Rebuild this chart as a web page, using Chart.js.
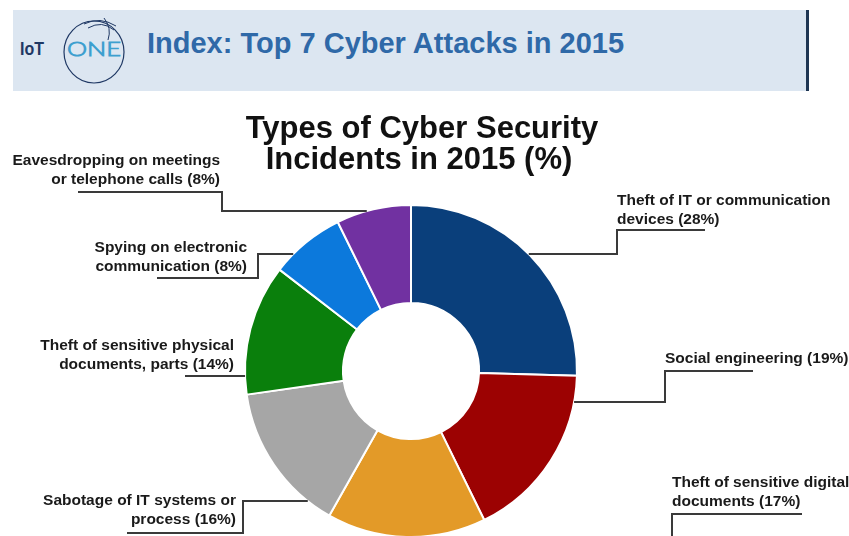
<!DOCTYPE html>
<html>
<head>
<meta charset="utf-8">
<script src="https://cdn.jsdelivr.net/npm/chart.js@4"></script>
<style>
  html, body { margin: 0; padding: 0; background: #fff; overflow: hidden; }
  #page { position: relative; width: 849px; height: 536px; overflow: hidden; }
  #header { position: absolute; left: 0; top: 0; }
  #wrap { position: absolute; left: 0; top: 0; width: 849px; height: 560px; }
</style>
</head>
<body>
<div id="page">
  <svg id="header" width="849" height="100" xmlns="http://www.w3.org/2000/svg">
    <rect x="13" y="10" width="793" height="81" fill="#dce6f1"/>
    <rect x="806" y="10" width="3" height="81" fill="#1f3653"/>
    <!-- logo -->
    <text x="20" y="55" font-family="Liberation Sans, Arial, sans-serif" font-weight="bold" font-size="19" fill="#1f3864" textLength="24" lengthAdjust="spacingAndGlyphs">IoT</text>
    <ellipse cx="94" cy="52" rx="30" ry="31" fill="none" stroke="#1f3864" stroke-width="1.2"/>
    <path d="M84 24 Q100 16 116 26" fill="none" stroke="#1f3864" stroke-width="1"/>
    <path d="M88 28 Q102 20 114 30" fill="none" stroke="#1f3864" stroke-width="1"/>
    <path d="M104 18 Q112 28 108 40" fill="none" stroke="#1f3864" stroke-width="1"/>
    <text x="67" y="56" font-family="Lato, Liberation Sans, sans-serif" font-weight="300" font-size="19" fill="none" stroke="#3d9fcf" stroke-width="0.9" textLength="54" lengthAdjust="spacingAndGlyphs">ONE</text>
    <text x="147" y="53" font-family="Liberation Sans, Arial, sans-serif" font-weight="bold" font-size="29" fill="#2f69a8">Index: Top 7 Cyber Attacks in 2015</text>
  </svg>
  <div id="wrap"><canvas id="donut" width="849" height="560"></canvas></div>
</div>
<script>
// categories, one entry per slice, already split into label lines
const categories = [
  ['Theft of IT or communication', 'devices'],
  ['Social engineering'],
  ['Theft of sensitive digital', 'documents'],
  ['Sabotage of IT systems or', 'process'],
  ['Theft of sensitive physical', 'documents, parts'],
  ['Spying on electronic', 'communication'],
  ['Eavesdropping on meetings', 'or telephone calls']
];
// share of companies reporting each incident type (%)
const shares = [28, 19, 17, 16, 14, 8, 8];
const sliceColors = ['#0a3f7b', '#9c0202', '#e39a28', '#a6a6a6', '#0a7f0c', '#0c79dc', '#7131a1'];
const titleLines = ['Types of Cyber Security', 'Incidents in 2015 (%)'];

// where each callout text sits and how its leader line runs
// anchorY: height where the leader meets the ring (null = runs off the bottom)
const callouts = [
  { align: 'left',  x: 617, y: 205, anchorY: 254, path: [[617, 254], [617, 230], [705, 230]] },
  { align: 'left',  x: 665, y: 363, anchorY: 402, path: [[665, 402], [665, 371], [753, 371]] },
  { align: 'left',  x: 672, y: 487, anchorY: null, path: [[802, 514], [672, 514], [672, 570]] },
  { align: 'right', x: 236, y: 505, anchorY: 501, path: [[243, 501], [243, 533], [127, 533]] },
  { align: 'right', x: 234, y: 350, anchorY: 376, path: [[185, 376]] },
  { align: 'right', x: 247, y: 252, anchorY: 254, path: [[258, 254], [258, 278], [157, 278]] },
  { align: 'right', x: 220, y: 165, anchorY: 211, path: [[222, 211], [222, 192], [78, 192]] }
];

const calloutPlugin = {
  id: 'callouts',
  afterDraw(chart) {
    const ctx = chart.ctx;
    const arcs = chart.getDatasetMeta(0).data;
    const values = chart.data.datasets[0].data;

    ctx.save();
    // chart heading
    ctx.fillStyle = '#111';
    ctx.font = 'bold 31px "Liberation Sans", Arial, sans-serif';
    ctx.textAlign = 'center';
    ctx.textBaseline = 'alphabetic';
    ctx.fillText(titleLines[0], 422, 138);
    ctx.fillText(titleLines[1], 419, 169);

    ctx.font = 'bold 15.5px "Liberation Sans", Arial, sans-serif';
    callouts.forEach((c, i) => {
      const arc = arcs[i];
      const lines = chart.data.labels[i].slice();
      lines[lines.length - 1] += ' (' + values[i] + '%)';

      ctx.fillStyle = '#1a1a1a';
      ctx.textAlign = c.align;
      lines.forEach((t, k) => ctx.fillText(t, c.x, c.y + k * 18.5));

      // leader line: starts on the ring's outer edge on the slice's side
      const pts = [];
      if (c.anchorY !== null) {
        const mid = (arc.startAngle + arc.endAngle) / 2;
        const side = Math.cos(mid) >= 0 ? 1 : -1;
        const dy = c.anchorY - arc.y;
        const dx = Math.sqrt(Math.max(arc.outerRadius * arc.outerRadius - dy * dy, 0));
        pts.push([arc.x + side * dx, c.anchorY]);
      }
      c.path.forEach(p => pts.push(p));
      ctx.strokeStyle = '#3a3a3a';
      ctx.lineWidth = 2;
      ctx.beginPath();
      pts.forEach((p, k) => (k ? ctx.lineTo(p[0], p[1]) : ctx.moveTo(p[0], p[1])));
      ctx.stroke();
    });
    ctx.restore();
  }
};

new Chart(document.getElementById('donut'), {
  type: 'doughnut',
  data: {
    labels: categories,
    datasets: [{
      data: shares,
      backgroundColor: sliceColors,
      borderColor: '#ffffff',
      borderWidth: 2
    }]
  },
  options: {
    responsive: false,
    animation: false,
    cutout: '41%',
    layout: { padding: { top: 204, left: 244, right: 271, bottom: 22 } },
    plugins: {
      legend: { display: false },
      tooltip: { enabled: false },
      title: { display: false }
    }
  },
  plugins: [calloutPlugin]
});
</script>
</body>
</html>
